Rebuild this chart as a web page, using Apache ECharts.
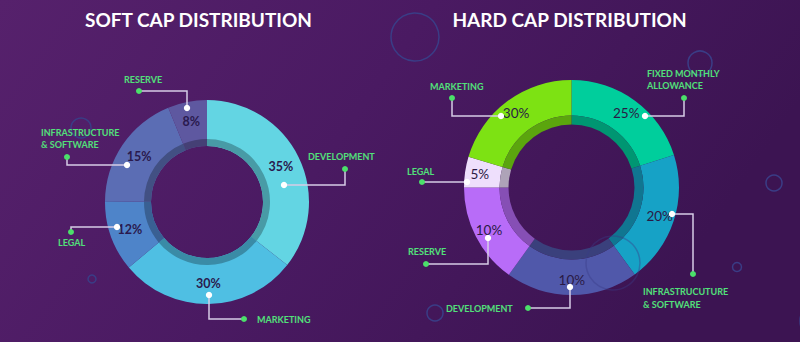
<!DOCTYPE html>
<html><head><meta charset="utf-8">
<script src="https://cdn.jsdelivr.net/npm/echarts@6/dist/echarts.min.js"></script>
<style>html,body{margin:0;padding:0;background:#4a1a60}#c{width:800px;height:342px}</style>
</head><body><div id="c"></div>
<script>
// ---- data ----
const titles = ['SOFT CAP DISTRIBUTION', 'HARD CAP DISTRIBUTION'];
const softCategories = ['DEVELOPMENT', 'MARKETING', 'LEGAL', 'INFRASTRUCTURE\n& SOFTWARE', 'RESERVE'];
const softPercentLabels = ['35%', '30%', '12%', '15%', '8%'];
const softSliceShares = [35.6, 28.3, 11.2, 18.7, 6.2];   // slice sizes as drawn
const hardCategories = ['FIXED MONTHLY\nALLOWANCE', 'INFRASTRUCUTURE\n& SOFTWARE', 'DEVELOPMENT', 'RESERVE', 'LEGAL', 'MARKETING'];
const hardPercentLabels = ['25%', '20%', '10%', '10%', '5%', '30%'];
const hardSliceShares = [20.1, 19.9, 19.9, 15.1, 4.6, 20.4]; // slice sizes as drawn

// ---- styles / layout ----
const softColors = ['#63D5E3', '#4FBFE3', '#4E84C9', '#5B6DB4', '#5E58A0'];
const hardColors = ['#00CE9C', '#16A2C6', '#5058AA', '#B86CF8', '#EEDFFC', '#7DE213'];
const FONT = 'Lato, "Open Sans", sans-serif';
const GREEN = '#52E07A';
const LINE = '#D6CCE6';

function darken(hex, f) {
  const n = parseInt(hex.slice(1), 16);
  const r = Math.round(((n >> 16) & 255) * f), g = Math.round(((n >> 8) & 255) * f), b = Math.round((n & 255) * f);
  return 'rgb(' + r + ',' + g + ',' + b + ')';
}

// annotation layout: [white dot, elbow, green dot], text anchor, align
const softAnno = [
  { pts: [[284,185],[345,185],[345,169]], tx: 308, ty: 156, align: 'left' },
  { pts: [[209,295],[209,319],[244,319]], tx: 257, ty: 319, align: 'left' },
  { pts: [[117,227],[71,227],[71,232]], tx: 58, ty: 242, align: 'left' },
  { pts: [[127,165],[67,165],[67,157]], tx: 41, ty: 138.5, align: 'left' },
  { pts: [[187,108],[187,91],[139,91]], tx: 124, ty: 79, align: 'left' }
];
const hardAnno = [
  { pts: [[645,116],[684,116],[684,98]], tx: 647, ty: 79.5, align: 'left' },
  { pts: [[672,214],[693,214],[693,274]], tx: 643, ty: 298, align: 'left' },
  { pts: [[570,287],[570,308],[528,308]], tx: 446, ty: 308, align: 'left' },
  { pts: [[488,238],[488,264],[426,264]], tx: 408, ty: 251, align: 'left' },
  { pts: [[467,182],[422,182]], tx: 407, ty: 171, align: 'left' },
  { pts: [[501,116],[452,116],[452,98]], tx: 430, ty: 86, align: 'left' }
];
const decoCircles = [
  [415, 37, 24, 1], [81, 128, 10, 1], [92, 279, 4, 1], [700, 63, 12, 1],
  [774, 183, 8, 1], [737, 267, 4.5, 1], [435, 313, 8, 1], [613, 263, 27, 0.4], [818, 321, 18, 1]
];

const graphics = [];
decoCircles.forEach(c => graphics.push({
  type: 'circle', shape: { cx: c[0], cy: c[1], r: c[2] }, z: c[3] < 1 ? 50 : 1,
  style: { fill: 'none', stroke: '#3A3D86', lineWidth: 1.5, opacity: c[3] }, silent: true
}));
titles.forEach((t, i) => graphics.push({
  type: 'text', x: i === 0 ? 198.5 : 569.5, y: 19, z: 100,
  style: { text: t, fill: '#FFFFFF', font: 'bold 19px ' + FONT, textAlign: 'center', textVerticalAlign: 'middle' }
}));
function addAnno(annos, cats) {
  annos.forEach((a, i) => {
    graphics.push({ type: 'polyline', z: 100, shape: { points: a.pts }, style: { stroke: LINE, lineWidth: 1.5, fill: 'none' }, silent: true });
    const s = a.pts[0], e = a.pts[a.pts.length - 1];
    graphics.push({ type: 'circle', z: 101, shape: { cx: s[0], cy: s[1], r: 3.2 }, style: { fill: '#FFFFFF' } });
    graphics.push({ type: 'circle', z: 101, shape: { cx: e[0], cy: e[1], r: 3 }, style: { fill: '#4BE06A' } });
    graphics.push({ type: 'text', z: 101, x: a.tx, y: a.ty,
      style: { text: cats[i], fill: GREEN, font: 'bold 9px ' + FONT, textAlign: a.align, textVerticalAlign: 'middle', lineHeight: 12.5 } });
  });
}
addAnno(softAnno, softCategories);
addAnno(hardAnno, hardCategories);

function pieSeries(center, radius, shares, cats, colors, labels, labelStyle, band) {
  return [{
    type: 'pie', center: center, radius: radius, startAngle: 90, clockwise: true,
    avoidLabelOverlap: false, silent: true, animation: false, z: 2,
    itemStyle: { borderWidth: 0 },
    data: shares.map((v, i) => ({ value: v, name: cats[i], itemStyle: { color: colors[i] } })),
    label: Object.assign({ show: true, position: 'inside', formatter: p => labels[p.dataIndex] }, labelStyle),
    labelLine: { show: false }, emphasis: { disabled: true }
  }, {
    type: 'pie', center: center, radius: band, startAngle: 90, clockwise: true,
    silent: true, animation: false, z: 3, itemStyle: { borderWidth: 0 },
    data: shares.map((v, i) => ({ value: v, name: cats[i], itemStyle: { color: darken(colors[i], 0.73) } })),
    label: { show: false }, labelLine: { show: false }, emphasis: { disabled: true }
  }];
}

const chart = echarts.init(document.getElementById('c'), null, { renderer: 'svg', width: 800, height: 342 });
chart.setOption({
  animation: false,
  backgroundColor: {
    type: 'linear', x: 0, y: 0, x2: 1, y2: 0.3,
    colorStops: [{ offset: 0, color: '#56216C' }, { offset: 0.5, color: '#4A1A62' }, { offset: 1, color: '#3C1452' }]
  },
  graphic: { elements: graphics },
  series: [].concat(
    pieSeries([207, 202], [56, 102], softSliceShares, softCategories, softColors, softPercentLabels,
      { color: '#2A1A4E', fontWeight: 'bold', fontSize: 12.5, fontFamily: FONT }, [56, 63]),
    pieSeries([571.5, 187.5], [72, 107.5], hardSliceShares, hardCategories, hardColors, hardPercentLabels,
      { color: '#2A1A45', fontWeight: 'normal', fontSize: 13.5, fontFamily: FONT }, [63, 72])
  )
});
</script></body></html>
